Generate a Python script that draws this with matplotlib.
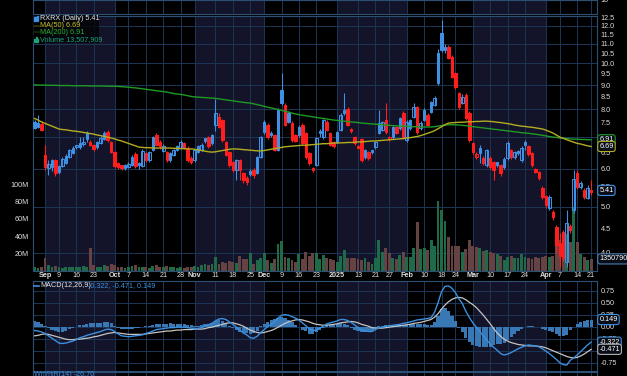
import numpy as np
import matplotlib
matplotlib.use('Agg')
import matplotlib.pyplot as plt
from matplotlib.ticker import NullLocator
from matplotlib.lines import Line2D
from matplotlib.patches import Rectangle
from matplotlib.transforms import blended_transform_factory as blend

# ---- DATA (trading-day index 0 = Sep 3 2024, 157 = Apr 21 2025) ----
day = np.arange(-3, 158)

opens = [7.53, 7.49, 7.45, 6.42, 6.03, 6.06, 6.27, 5.91, 6.09, 6.18, 6.36, 6.48, 6.66,
         6.67, 6.77, 7.14, 6.84, 6.74, 6.67, 6.80, 6.93, 7.17, 6.84,
         6.51, 6.18, 6.09, 6.03, 6.06, 6.12, 6.45, 6.16, 6.10, 6.48,
         6.27, 6.58, 7.07, 6.84, 6.55, 6.51, 6.27, 6.42, 6.58, 6.64,
         6.80, 6.64, 6.33, 6.27, 6.51, 6.58, 6.88, 7.00, 6.80, 7.42,
         7.71, 7.60, 6.84, 6.51, 6.21, 5.97, 6.27, 5.88, 5.75, 5.85,
         5.97, 5.88, 6.36, 7.17, 7.42, 7.07, 7.07, 6.58, 8.79, 8.17,
         7.87, 7.49, 7.07, 7.07, 7.42, 7.14, 6.48, 5.97, 6.12, 7.14,
         7.00, 7.53, 7.14, 6.84, 6.84, 7.24, 7.98, 8.02, 7.28, 7.00,
         6.64, 6.93, 6.58, 6.51, 6.51, 6.67, 7.14, 7.24, 7.60, 6.93,
         7.00, 7.35, 7.31, 7.87, 6.90, 7.31, 7.71, 8.09, 7.31, 7.60,
         7.79, 7.91, 8.17, 9.09, 11.57, 10.66, 10.82, 10.31, 9.54, 8.66,
         8.25, 8.58, 7.87, 6.80, 6.36, 6.48, 6.33, 6.12, 6.33, 6.21,
         6.18, 6.12, 6.06, 6.33, 6.58, 6.36, 6.48, 6.27, 6.80, 6.70,
         6.48, 6.00, 5.91, 5.47, 5.26, 4.97, 4.87, 4.53, 4.20, 4.43,
         3.82, 4.55, 4.92, 5.88, 5.50, 5.42, 5.22, 5.36]
highs = [7.60, 7.79, 7.55, 6.74, 6.27, 6.30, 6.30, 6.12, 6.36, 6.45, 6.62, 6.70, 6.75,
         7.00, 7.00, 7.20, 6.90, 6.78, 6.88, 7.02, 7.20, 7.25, 6.88,
         6.55, 6.22, 6.12, 6.15, 6.20, 6.42, 6.50, 6.20, 6.62, 6.52,
         6.55, 7.05, 7.15, 6.90, 6.78, 6.55, 6.50, 6.62, 6.74, 6.90,
         6.85, 6.70, 6.40, 6.62, 6.75, 6.80, 6.97, 7.03, 7.10, 8.40,
         7.85, 7.65, 6.88, 6.55, 6.25, 6.30, 6.30, 5.92, 5.80, 6.00,
         6.02, 6.40, 7.05, 7.60, 7.50, 7.20, 7.12, 8.05, 9.54, 8.25,
         7.95, 7.55, 7.12, 7.42, 7.50, 7.17, 6.52, 6.06, 7.00, 7.28,
         7.65, 7.60, 7.17, 6.88, 7.20, 7.85, 8.66, 8.10, 7.32, 7.05,
         6.75, 6.97, 6.62, 6.55, 6.58, 6.88, 7.98, 7.58, 8.25, 7.05,
         7.40, 7.40, 7.72, 7.95, 7.60, 7.65, 8.25, 8.15, 7.55, 8.05,
         7.85, 8.35, 8.55, 10.71, 12.32, 11.00, 10.90, 10.40, 9.60, 8.70,
         8.60, 8.65, 7.95, 6.85, 6.50, 6.74, 6.38, 6.62, 6.40, 6.25,
         6.22, 6.15, 6.36, 6.86, 6.62, 6.55, 6.58, 6.70, 6.90, 6.74,
         6.52, 6.03, 5.95, 5.52, 5.30, 5.30, 4.92, 4.58, 4.40, 4.47,
         4.92, 4.60, 5.97, 5.97, 5.65, 5.47, 5.55, 5.69]
lows = [7.28, 7.30, 7.20, 5.97, 5.83, 5.95, 5.80, 5.85, 6.05, 6.15, 6.33, 6.45, 6.60,
        6.62, 6.72, 6.85, 6.70, 6.55, 6.62, 6.78, 6.90, 6.85, 6.48,
        6.03, 6.00, 5.97, 5.98, 6.02, 6.08, 6.03, 6.00, 6.06, 6.20,
        6.22, 6.55, 6.70, 6.62, 6.50, 6.20, 6.22, 6.38, 6.54, 6.60,
        6.60, 6.22, 6.15, 6.22, 6.48, 6.55, 6.80, 6.65, 6.75, 7.20,
        7.30, 6.85, 6.38, 6.05, 5.90, 5.69, 5.69, 5.60, 5.55, 5.80,
        5.75, 5.85, 6.33, 7.10, 6.95, 7.00, 6.55, 6.55, 8.17, 7.38,
        7.48, 6.85, 6.85, 7.00, 6.75, 6.30, 6.12, 5.92, 6.09, 7.00,
        6.95, 7.20, 6.70, 6.65, 6.80, 7.20, 7.80, 7.38, 7.15, 6.75,
        6.60, 6.20, 6.30, 6.28, 6.45, 6.62, 7.10, 7.20, 7.12, 6.88,
        6.95, 7.10, 7.25, 6.95, 6.85, 7.25, 7.68, 7.12, 7.25, 7.55,
        7.38, 7.85, 8.12, 9.00, 10.55, 10.50, 10.20, 9.30, 8.85, 8.02,
        8.20, 7.62, 6.85, 6.45, 6.30, 6.18, 6.12, 6.06, 6.00, 5.69,
        6.05, 5.80, 6.00, 6.28, 6.30, 6.30, 6.42, 6.20, 6.58, 6.40,
        6.06, 5.88, 5.70, 5.20, 4.98, 4.92, 4.70, 4.00, 3.73, 3.85,
        3.73, 4.40, 4.85, 5.45, 5.45, 5.20, 5.20, 5.30]
closes = [7.31, 7.35, 7.24, 6.06, 6.15, 6.27, 5.88, 6.09, 6.30, 6.39, 6.58, 6.64, 6.70,
          6.80, 6.85, 6.92, 6.74, 6.61, 6.84, 6.97, 7.14, 6.90, 6.51,
          6.09, 6.06, 6.03, 6.12, 6.15, 6.36, 6.09, 6.11, 6.55, 6.27,
          6.51, 7.00, 6.74, 6.70, 6.72, 6.27, 6.48, 6.58, 6.70, 6.84,
          6.64, 6.27, 6.21, 6.58, 6.70, 6.74, 6.93, 6.70, 7.07, 7.87,
          7.35, 6.90, 6.42, 6.12, 5.97, 6.27, 5.97, 5.69, 5.64, 5.95,
          5.83, 6.36, 7.00, 7.53, 7.00, 7.14, 6.58, 7.98, 8.25, 7.42,
          7.53, 6.90, 6.88, 7.35, 6.80, 6.36, 6.18, 6.03, 6.97, 7.20,
          7.60, 7.24, 6.74, 6.70, 7.17, 7.79, 7.87, 7.42, 7.20, 6.80,
          6.70, 6.27, 6.36, 6.33, 6.55, 6.84, 7.49, 7.52, 7.17, 7.00,
          7.35, 7.14, 7.68, 7.00, 7.53, 7.60, 8.09, 7.17, 7.49, 7.98,
          7.42, 8.29, 8.46, 10.50, 10.66, 10.82, 10.26, 9.36, 8.91, 8.09,
          8.50, 7.68, 6.90, 6.51, 6.45, 6.64, 6.18, 6.58, 6.06, 5.97,
          6.12, 5.88, 6.30, 6.80, 6.36, 6.51, 6.53, 6.64, 6.74, 6.45,
          6.12, 5.91, 5.75, 5.24, 5.04, 5.24, 4.75, 4.16, 3.94, 3.90,
          4.62, 4.47, 5.72, 5.50, 5.60, 5.24, 5.47, 5.41]
volume_m = [4, 3, 4, 14, 6, 4, 5, 3.5, 3, 3.5, 3.5, 4, 3.5,
            4, 5.5, 4, 26, 6, 3.5, 4, 6, 5, 7,
            6, 4, 3.5, 3, 3.5, 5, 6, 3.5, 4, 3.5,
            3, 5, 6, 3.5, 4, 5, 3.5, 4, 3, 3.5,
            3, 4.5, 4, 5, 4, 6, 7, 6, 8, 16,
            8, 10, 9, 11, 10, 9, 17, 13, 13, 20,
            8, 12, 14, 20, 12, 9, 13, 31, 34, 16,
            14, 12, 10, 19, 13, 21, 17, 20, 20, 13,
            18, 14, 13, 12, 10, 17, 24, 15, 14, 14,
            13, 12, 14, 10, 8, 14, 36, 22, 26, 20,
            14, 13, 18, 21, 16, 16, 26, 56, 25, 26,
            24, 35, 29, 81, 70, 58, 39, 29, 28, 28,
            21, 25, 36, 29, 27, 26, 23, 24, 22, 20,
            19, 17, 12, 16, 17, 15, 14, 19, 16, 15,
            13, 16, 15, 16, 17, 16, 17, 29, 35, 23,
            43, 33, 74, 33, 19, 16, 12, 13.507909]
ma50 = [7.66, 7.60, 7.53, 7.48, 7.43, 7.38, 7.33, 7.28,
        7.26, 7.25, 7.23, 7.21, 7.20, 7.18, 7.16, 7.14,
        7.12, 7.10, 7.07, 7.05, 7.02, 7.00, 6.97, 6.94, 6.90, 6.87,
        6.83, 6.79, 6.75, 6.71, 6.67,
        6.66, 6.65, 6.65, 6.64, 6.64, 6.64, 6.64, 6.64, 6.64,
        6.63, 6.63, 6.62, 6.62, 6.61, 6.61, 6.60,
        6.58, 6.56, 6.54, 6.52, 6.51,
        6.52, 6.54, 6.56, 6.58, 6.60, 6.61,
        6.61, 6.60, 6.59, 6.58, 6.57, 6.56, 6.55, 6.55, 6.56,
        6.58, 6.60, 6.62, 6.64, 6.66, 6.68,
        6.69, 6.70, 6.71, 6.72, 6.73, 6.73, 6.74,
        6.75, 6.76, 6.77, 6.78, 6.78, 6.79, 6.80,
        6.80, 6.81, 6.81, 6.82, 6.82, 6.83, 6.84, 6.84,
        6.85, 6.86, 6.87, 6.87, 6.88, 6.89, 6.90,
        6.91, 6.92, 6.93, 6.94, 6.95, 6.97,
        6.98, 7.00, 7.02, 7.05, 7.09, 7.13, 7.17,
        7.22, 7.29, 7.36, 7.43, 7.49,
        7.50, 7.51, 7.52, 7.52, 7.53,
        7.54, 7.54, 7.55, 7.55, 7.56, 7.56,
        7.55, 7.54, 7.52, 7.51, 7.49,
        7.47, 7.45, 7.42, 7.40, 7.38,
        7.37, 7.35, 7.34, 7.32, 7.30, 7.28,
        7.24, 7.19, 7.14, 7.07, 7.00,
        6.96, 6.91, 6.87, 6.83, 6.79,
        6.77, 6.74, 6.71, 6.69]
ma200 = [9.01, 9.00, 9.00, 9.00, 8.99, 8.99, 8.99, 8.98,
         8.98, 8.98, 8.98, 8.97, 8.97, 8.97, 8.97, 8.97, 8.96, 8.96, 8.96, 8.96, 8.96, 8.95, 8.95, 8.95,
         8.94, 8.93, 8.92, 8.91, 8.89, 8.88,
         8.86, 8.84, 8.82, 8.80, 8.78, 8.76, 8.74, 8.72, 8.70, 8.67,
         8.64, 8.62, 8.60, 8.58, 8.55, 8.52, 8.50,
         8.49, 8.48, 8.47, 8.46, 8.45, 8.44, 8.42,
         8.40, 8.38, 8.36, 8.34, 8.32, 8.30, 8.28, 8.26, 8.25,
         8.22, 8.19, 8.16, 8.12, 8.09,
         8.06, 8.03, 8.00, 7.96, 7.93, 7.90,
         7.86, 7.83, 7.80,
         7.78, 7.76, 7.74, 7.72, 7.70, 7.68, 7.66, 7.64, 7.62, 7.60,
         7.59, 7.57, 7.56, 7.55, 7.53, 7.52, 7.51, 7.49, 7.48, 7.47,
         7.46, 7.45, 7.44, 7.43, 7.42, 7.41, 7.40, 7.39, 7.38,
         7.38, 7.37, 7.37, 7.36, 7.36, 7.36, 7.35, 7.35, 7.35, 7.36,
         7.38, 7.40, 7.42, 7.43, 7.43, 7.43, 7.42, 7.41, 7.40, 7.38,
         7.36, 7.35, 7.33, 7.32, 7.30, 7.29, 7.27, 7.26, 7.24,
         7.23, 7.21, 7.20, 7.18, 7.17, 7.15, 7.14, 7.13, 7.11, 7.10,
         7.08, 7.06, 7.04, 7.02, 7.00,
         6.99, 6.97, 6.96, 6.95, 6.94,
         6.93, 6.93, 6.92, 6.92, 6.91, 6.91]
macd = [-0.08, -0.09, -0.11, -0.14, -0.19, -0.24, -0.29, -0.34, -0.35, -0.34, -0.32, -0.30, -0.27,
        -0.23, -0.21, -0.18, -0.16, -0.14, -0.12, -0.10, -0.07, -0.05, -0.06,
        -0.10, -0.15, -0.19, -0.20, -0.21, -0.20, -0.19, -0.18, -0.17, -0.14,
        -0.12, -0.09, -0.06, -0.05, -0.04, -0.03, -0.02, -0.02, -0.01, -0.01,
        -0.01, -0.02, -0.03, -0.04, -0.04, -0.02, 0.01, 0.04, 0.07, 0.12,
        0.16, 0.17, 0.15, 0.10, 0.05, -0.01, -0.07, -0.13, -0.17, -0.23,
        -0.24, -0.20, -0.12, -0.06, 0.00, 0.05, 0.10, 0.18, 0.24, 0.25,
        0.24, 0.21, 0.18, 0.14, 0.08, 0.02, -0.05, -0.08, -0.07, -0.03,
        0.01, 0.06, 0.08, 0.10, 0.12, 0.15, 0.15, 0.13, 0.09, 0.04,
        -0.02, -0.07, -0.09, -0.10, -0.10, -0.06, -0.02, -0.01, 0.01, 0.02,
        0.03, 0.04, 0.05, 0.07, 0.08, 0.10, 0.12, 0.14, 0.15, 0.16,
        0.17, 0.19, 0.30, 0.50, 0.73, 0.84, 0.85, 0.80, 0.71, 0.58,
        0.48, 0.32, 0.19, 0.08, -0.01, -0.10, -0.19, -0.28, -0.36, -0.43,
        -0.49, -0.56, -0.59, -0.57, -0.54, -0.50, -0.46, -0.43, -0.40, -0.38,
        -0.39, -0.40, -0.42, -0.46, -0.51, -0.56, -0.62, -0.68, -0.75, -0.79,
        -0.80, -0.70, -0.65, -0.59, -0.52, -0.45, -0.38, -0.322]
signal = [-0.19, -0.18, -0.16, -0.15, -0.16, -0.18, -0.20, -0.22, -0.24, -0.26, -0.27, -0.27, -0.26,
          -0.26, -0.25, -0.24, -0.23, -0.21, -0.20, -0.18, -0.16, -0.14, -0.13,
          -0.12, -0.13, -0.14, -0.15, -0.16, -0.16, -0.16, -0.16, -0.16, -0.15,
          -0.14, -0.13, -0.12, -0.11, -0.10, -0.09, -0.09, -0.08, -0.07, -0.07,
          -0.06, -0.06, -0.06, -0.05, -0.05, -0.05, -0.04, -0.02, -0.01, 0.01,
          0.03, 0.05, 0.07, 0.08, 0.08, 0.06, 0.04, 0.01, -0.03, -0.07,
          -0.10, -0.12, -0.13, -0.12, -0.10, -0.08, -0.05, -0.01, 0.03, 0.07,
          0.10, 0.12, 0.14, 0.15, 0.14, 0.12, 0.10, 0.07, 0.05, 0.04,
          0.03, 0.03, 0.04, 0.05, 0.06, 0.08, 0.09, 0.10, 0.11, 0.10,
          0.08, 0.05, 0.03, 0.01, -0.02, -0.03, -0.03, -0.03, -0.02, -0.01,
          0.00, 0.01, 0.02, 0.03, 0.04, 0.05, 0.07, 0.08, 0.09, 0.11,
          0.13, 0.15, 0.20, 0.27, 0.37, 0.45, 0.52, 0.57, 0.60, 0.61,
          0.60, 0.56, 0.51, 0.46, 0.40, 0.32, 0.24, 0.15, 0.06, -0.04,
          -0.13, -0.20, -0.26, -0.30, -0.33, -0.35, -0.37, -0.38, -0.39, -0.40,
          -0.40, -0.40, -0.41, -0.42, -0.44, -0.47, -0.50, -0.53, -0.56, -0.59,
          -0.62, -0.64, -0.65, -0.64, -0.61, -0.57, -0.52, -0.471]

tick_pos = [0, 4, 9, 14, 20, 24, 29, 34, 39, 43, 49, 54, 59, 63, 68, 73, 78,
            84, 90, 95, 99, 104, 109, 114, 118, 123, 128, 133, 138, 144, 148, 153, 157]
tick_labels = ['Sep', '9', '16', '23', 'Oct', '7', '14', '21', '28', 'Nov', '11', '18', '25',
               'Dec', '9', '16', '23', '2025', '13', '21', '27', 'Feb', '10', '18', '24',
               'Mar', '10', '17', '24', 'Apr', '7', '14', '21']
month_names = ['Sep', 'Oct', 'Nov', 'Dec', '2025', 'Feb', 'Mar', 'Apr']
shaded_months = [(0, 20), (43, 63), (84, 104), (123, 144)]
price_ticks = [4.0, 4.5, 5.0, 5.5, 6.0, 6.5, 7.0, 7.5, 8.0, 8.5, 9.0, 9.5,
               10.0, 10.5, 11.0, 11.5, 12.0, 12.5]
price_grid = [4, 5, 6, 7, 8, 9, 10, 11, 12]
vol_ticks = [20, 40, 60, 80, 100]
macd_ticks = [0.75, 0.5, 0.25, 0.0, -0.25, -0.5, -0.75]

# ---- STYLE ----
W, H = 627, 376
BG = '#000000'
SHADE = '#131329'
GRID = '#1c3656'
SPINE = '#2c4f74'
TXT = '#dedede'
BLUE = '#3f8fe3'
RED = '#ff1e1e'
YEL = '#b3ad22'
GRN = '#1f9a25'
VUP = '#1e6a49'
VDN = '#654343'
FS = 5.2
plt.rcParams['font.family'] = ['Liberation Sans', 'DejaVu Sans']

opens, highs, lows, closes = map(np.array, (opens, highs, lows, closes))
vol = np.array(volume_m)
macd = np.array(macd)
signal = np.array(signal)
hist = macd - signal
prev = np.r_[closes[0], closes[:-1]]
up = closes >= prev
ccol = np.where(up, BLUE, RED)
vcol = np.where(up, VUP, VDN)
filled = closes < opens

fig = plt.figure(figsize=(W / 100, H / 100), dpi=100, facecolor=BG)


def rect(top, bottom):
    return [32.5 / W, 1 - bottom / H, (597 - 32.5) / W, (bottom - top) / H]


def panel(ax):
    ax.set_xlim(-3.6, 158.7)
    ax.set_facecolor(BG)
    for s in ax.spines.values():
        s.set_color(SPINE)
        s.set_linewidth(0.8)
    for a, b in shaded_months:
        ax.axvspan(a, b, color=SHADE, lw=0, zorder=0)
    for t in tick_pos:
        ax.axvline(t, color=GRID, lw=0.7, zorder=0.5)
    ax.set_xticks([])
    ax.tick_params(axis='y', length=0, labelsize=FS, labelcolor=TXT, pad=2.5)


# top stub (bottom of a panel above)
tax = fig.add_axes(rect(0, 14))
panel(tax)
tax.set_yticks([])
fig.text(600 / W, 1 - 1 / H, '10', fontsize=FS, color=TXT, va='center')

# volume layer (background, grid, volume bars)
vax = fig.add_axes(rect(16, 270.5))
panel(vax)
vax.set_ylim(0, 296)
vax.bar(day, vol, width=0.82, color=vcol, lw=0, zorder=1)
vax.set_yticks(vol_ticks)
vax.set_yticklabels(['%dM' % v for v in vol_ticks])

# price layer
pax = fig.add_axes(rect(16, 270.5))
pax.set_facecolor('none')
pax.set_xlim(-3.6, 158.7)
pax.set_yscale('log')
pax.set_ylim(3.674, 12.566)
for s in pax.spines.values():
    s.set_visible(False)
pax.set_xticks([])
pax.yaxis.set_minor_locator(NullLocator())
pax.yaxis.tick_right()
pax.set_yticks(price_ticks)
pax.set_yticklabels(['%.1f' % p for p in price_ticks])
pax.tick_params(axis='y', length=0, labelsize=FS, labelcolor=TXT, pad=2.5)

hgrid = blend(vax.transAxes, pax.transData)
for p in price_grid:
    vax.plot([0, 1], [p, p], transform=hgrid, color=GRID, lw=0.7, zorder=0.5)

pax.vlines(day, lows, highs, colors=ccol, lw=0.8, zorder=2)
body_lo = np.minimum(opens, closes)
body_h = np.maximum(np.abs(closes - opens), 0.012 * closes)
pax.bar(day, body_h, bottom=body_lo, width=0.72,
        color=[c if f else 'none' for c, f in zip(ccol, filled)],
        edgecolor=ccol, lw=0.75, zorder=3)
pax.plot(day, ma200, color=GRN, lw=1.0, zorder=4)
pax.plot(day, ma50, color=YEL, lw=1.0, zorder=4)

# date labels
for t, lab in zip(tick_pos, tick_labels):
    vax.text(t, -0.0216, lab, transform=vax.get_xaxis_transform(), ha='center', va='center',
             fontsize=FS, color=TXT, fontweight='bold' if lab in month_names else 'normal')

# MACD panel
max_ = fig.add_axes(rect(281, 370.5))
panel(max_)
max_.set_ylim(-0.9125, 0.952)
for v in macd_ticks:
    max_.axhline(v, color=GRID, lw=0.7, zorder=0.5)
max_.bar(day, hist, width=0.9, color='#3878b4', lw=0, zorder=1)
max_.plot(day, signal, color='#c4c4c4', lw=0.9, zorder=2)
max_.plot(day, macd, color='#3c90e0', lw=1.0, zorder=3)
max_.yaxis.tick_right()
max_.set_yticks(macd_ticks)
max_.set_yticklabels(['%.2f' % v for v in macd_ticks])

# Williams %R stub
wax = fig.add_axes(rect(371.5, 400))
panel(wax)
wax.set_yticks([])


def px(xp, yp):
    return xp / W, 1 - yp / H


# legend (top-left)
fig.add_artist(Rectangle(px(33, 42.5), 66 / W, 27 / H, transform=fig.transFigure,
                         facecolor='black', alpha=0.7, lw=0, zorder=2.5))
rows = [('RXRX (Daily) 5.41', '#e6e6e6'), ('MA(50) 6.69', '#c8c224'),
        ('MA(200) 6.91', '#25b32b'), ('Volume 13,507,909', '#1fa37a')]
for k, (s, c) in enumerate(rows):
    yy = 18.6 + 6.9 * k
    fig.text(*px(39.5, yy), s, fontsize=FS, color=c, va='center', ha='left')
fig.add_artist(Rectangle(px(34, 20.5), 1.6 / W, 3.5 / H, transform=fig.transFigure, color=BLUE, zorder=3))
fig.add_artist(Rectangle(px(36.5, 21), 1.6 / W, 4.5 / H, transform=fig.transFigure, color=BLUE, zorder=3))
fig.add_artist(Line2D([34 / W, 38.5 / W], [1 - 25.5 / H] * 2, color=YEL, lw=1.2))
fig.add_artist(Line2D([34 / W, 38.5 / W], [1 - 32.4 / H] * 2, color=GRN, lw=1.2))
for xo, hh in [(34, 3), (35.6, 4.5), (37.2, 2.5)]:
    fig.add_artist(Rectangle(px(xo, 41.5), 1.2 / W, hh / H, transform=fig.transFigure, color='#1fa37a', zorder=3))

# MACD label
fig.add_artist(Line2D([34 / W, 38.5 / W], [1 - 285.5 / H] * 2, color='#3c90e0', lw=1.2))
fig.text(*px(40, 285.5), 'MACD(12,26,9)', fontsize=FS, color='#e6e6e6', va='center')
fig.text(*px(87.5, 285.5), '-0.322, -0.471, 0.149', fontsize=FS, color='#3c90e0', va='center')

# Williams %R label
fig.text(*px(34, 374.5), 'Wm%R(14) -26.70', fontsize=FS, color='#3c90e0', va='center')


# value boxes on the right axis
def vbox(ax, val, s, ec, tc='white'):
    fig.text(1.004, val, s, transform=blend(ax.transAxes, ax.transData), fontsize=FS,
             color=tc, va='center', ha='left',
             bbox=dict(boxstyle='round,pad=0.22,rounding_size=0.35', fc='#0a0e18', ec=ec, lw=0.8))


vbox(pax, 6.91, '6.91', GRN)
vbox(pax, 6.69, '6.69', YEL)
vbox(pax, 5.41, '5.41', BLUE)
vbox(vax, 13.507909, '1350790', '#4f7fb0')
vbox(max_, 0.149, '0.149', '#3c90e0')
vbox(max_, -0.322, '-0.322', '#3c90e0')
vbox(max_, -0.471, '-0.471', '#b0b0b0')

fig.savefig('out.png', dpi=100, facecolor=BG)
